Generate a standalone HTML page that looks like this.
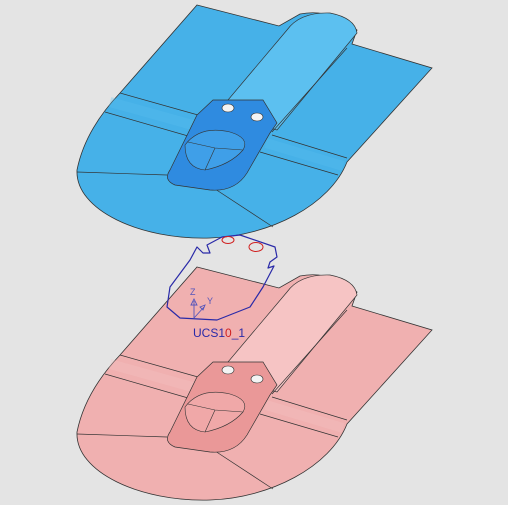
<!DOCTYPE html>
<html><head><meta charset="utf-8"><style>
html,body{margin:0;padding:0;background:#e4e4e4;}
svg{display:block;}
</style></head><body>
<svg width="508" height="505" viewBox="0 0 508 505" xmlns="http://www.w3.org/2000/svg">
<defs>
<g id="part">
  <path d="M197,5 L279,26 L300,14 Q330,8 357,30 L352,44 L432,68 L347,162 C330,205 270,236 210,238 C140,240 75,210 77,170 Q85,130 120,93 Z" fill="var(--f)" stroke="#333" stroke-width="0.8"/>
  <path d="M287,30 Q300,12 330,13 Q355,18 357,33 L277,130 L217,113 Z" fill="var(--l)" stroke="#333" stroke-width="0.7"/>
  <path d="M347,48 L272,132" stroke="#333" stroke-width="0.7" fill="none"/>
  <path d="M110,102 L196,126 M266,143 L343,166" stroke="var(--l)" stroke-width="10" opacity="0.3" fill="none"/>
  <path d="M120,93 L198,115 M105,112 L195,138 M272,135 L347,158 M260,152 L338,175" stroke="#333" stroke-width="0.7" fill="none"/>
  <path d="M77,172 L167,175 M212,187 L273,227" stroke="#333" stroke-width="0.7" fill="none"/>
  <path d="M197,115 L213,100 L263,100 L277,123 L270,133 L247,173 Q235,192 210,190 L175,185 Q163,180 170,170 Z" fill="var(--d)" stroke="#333" stroke-width="0.7"/>
  <ellipse cx="228" cy="108" rx="6" ry="4" fill="#f4f4f4" stroke="#333" stroke-width="0.6"/>
  <ellipse cx="257" cy="117" rx="6" ry="4" fill="#f4f4f4" stroke="#333" stroke-width="0.6"/>
  <path d="M185,145 Q200,125 230,132 Q250,138 243,150 Q230,165 205,170 Q185,168 185,145 Z" fill="var(--e)" stroke="#333" stroke-width="0.6"/>
  <path d="M188,142 L215,148 L243,150 M215,148 L205,170" stroke="#333" stroke-width="0.6" fill="none"/>
</g>
</defs>
<use href="#part" style="--f:#46b1e8;--l:#5cc0f0;--d:#2f8be0;--e:#3f9fe8"/>
<use href="#part" transform="translate(0,262)" style="--f:#f0b0b0;--l:#f6c4c4;--d:#ea9898;--e:#f0a8a8"/>
<path d="M222,237 L240,235 L275,247 L277,257 L270,262 L268,268 L274,266 L263,287 L250,307 L217,320 L180,318 L167,307 L170,287 L190,260 L197,247 L203,253 L210,253 L207,245 Z" fill="none" stroke="#2a2aa8" stroke-width="1.2" stroke-linejoin="round"/>
<ellipse cx="228" cy="240" rx="6" ry="3.5" fill="none" stroke="#d02020" stroke-width="1"/>
<ellipse cx="256" cy="247" rx="7" ry="4.5" fill="none" stroke="#d02020" stroke-width="1"/>
<g stroke="#5555bb" fill="none" stroke-width="0.9">
  <path d="M194,318 L194,301 M191,305 L194,299 L197,305 Z"/>
  <path d="M194,318 L204,307 M200,307 L205,305 L203,310 Z"/>
</g>
<text x="190" y="295" font-family="Liberation Sans, sans-serif" font-size="9" fill="#5555bb">Z</text>
<text x="207" y="304" font-family="Liberation Sans, sans-serif" font-size="9" fill="#5555bb">Y</text>
<text x="193" y="337" font-family="Liberation Sans, sans-serif" font-size="12" fill="#2a2aa8">UCS1<tspan fill="#d02020">0</tspan>_1</text>
</svg>
</body></html>
